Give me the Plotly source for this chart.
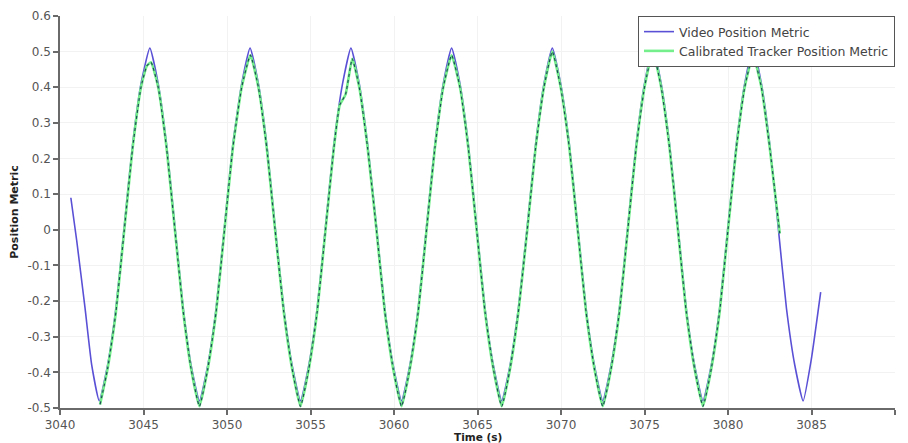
import plotly.graph_objects as go

# Video Position Metric
video_t = [3040.65, 3041.0, 3041.5, 3041.9, 3042.35, 3042.85, 3043.35, 3043.85, 3044.35, 3044.85,
           3045.38, 3045.88, 3046.38, 3046.88, 3047.38, 3047.85, 3048.35, 3048.85, 3049.35, 3049.85,
           3050.35, 3050.88, 3051.38, 3051.88, 3052.38, 3052.88, 3053.4, 3053.9, 3054.4, 3054.9,
           3055.4, 3055.9, 3056.4, 3056.92, 3057.42, 3057.92, 3058.42, 3058.95, 3059.45, 3059.95,
           3060.45, 3060.95, 3061.45, 3061.95, 3062.45, 3062.95, 3063.45, 3063.95, 3064.45, 3064.95,
           3065.45, 3065.95, 3066.45, 3066.95, 3067.45, 3067.98, 3068.48, 3068.98, 3069.48, 3069.98,
           3070.5, 3071.0, 3071.5, 3072.0, 3072.5, 3073.0, 3073.5, 3074.0, 3074.5, 3075.0,
           3075.5, 3076.0, 3076.5, 3077.0, 3077.5, 3078.0, 3078.5, 3079.0, 3079.5, 3080.0,
           3080.5, 3081.0, 3081.5, 3082.0, 3082.5, 3083.0, 3083.5, 3084.0, 3084.5, 3085.0,
           3085.55]
video_y = [0.09, -0.03, -0.22, -0.38, -0.48, -0.38, -0.22, 0.01, 0.24, 0.41,
           0.51, 0.41, 0.24, 0.01, -0.22, -0.38, -0.48, -0.38, -0.22, 0.01,
           0.24, 0.41, 0.51, 0.41, 0.24, 0.01, -0.22, -0.38, -0.48, -0.38,
           -0.22, 0.01, 0.24, 0.41, 0.51, 0.41, 0.24, 0.01, -0.22, -0.38,
           -0.48, -0.38, -0.22, 0.01, 0.24, 0.41, 0.51, 0.41, 0.24, 0.01,
           -0.22, -0.38, -0.48, -0.38, -0.22, 0.01, 0.24, 0.41, 0.51, 0.41,
           0.24, 0.01, -0.22, -0.38, -0.48, -0.38, -0.22, 0.01, 0.24, 0.41,
           0.51, 0.41, 0.24, 0.01, -0.22, -0.38, -0.48, -0.38, -0.22, 0.01,
           0.24, 0.41, 0.51, 0.41, 0.24, 0.01, -0.22, -0.38, -0.48, -0.36,
           -0.175]

# Calibrated Tracker Position Metric
tracker_t = [3042.4, 3042.85, 3043.35, 3043.85, 3044.35, 3044.85, 3045.2, 3045.45, 3045.88, 3046.38,
             3046.88, 3047.38, 3047.85, 3048.35, 3048.85, 3049.35, 3049.85, 3050.35, 3050.88, 3051.4,
             3051.88, 3052.38, 3052.88, 3053.4, 3053.9, 3054.4, 3054.9, 3055.4, 3055.9, 3056.4,
             3056.75, 3057.1, 3057.5, 3057.92, 3058.42, 3058.95, 3059.45, 3059.95, 3060.45, 3060.95,
             3061.45, 3061.95, 3062.45, 3062.95, 3063.45, 3063.95, 3064.45, 3064.95, 3065.45, 3065.95,
             3066.45, 3066.95, 3067.45, 3067.98, 3068.48, 3068.98, 3069.48, 3069.98, 3070.5, 3071.0,
             3071.5, 3072.0, 3072.5, 3073.0, 3073.5, 3074.0, 3074.5, 3075.0, 3075.5, 3076.0,
             3076.5, 3077.0, 3077.5, 3078.0, 3078.5, 3079.0, 3079.5, 3080.0, 3080.5, 3081.0,
             3081.5, 3082.0, 3082.5, 3083.1]
tracker_y = [-0.49, -0.39, -0.23, 0.0, 0.23, 0.40, 0.46, 0.47, 0.40, 0.23,
             0.0, -0.23, -0.39, -0.495, -0.39, -0.23, 0.0, 0.23, 0.40, 0.49,
             0.40, 0.23, 0.0, -0.23, -0.39, -0.495, -0.39, -0.23, 0.0, 0.23,
             0.35, 0.38, 0.48, 0.40, 0.23, 0.0, -0.23, -0.39, -0.495, -0.39,
             -0.23, 0.0, 0.23, 0.40, 0.49, 0.40, 0.23, 0.0, -0.23, -0.39,
             -0.495, -0.39, -0.23, 0.0, 0.23, 0.40, 0.50, 0.40, 0.23, 0.0,
             -0.23, -0.39, -0.495, -0.39, -0.23, 0.0, 0.23, 0.40, 0.50, 0.40,
             0.23, 0.0, -0.23, -0.39, -0.495, -0.39, -0.23, 0.0, 0.23, 0.40,
             0.49, 0.40, 0.23, -0.01]

x_ticks = [3040, 3045, 3050, 3055, 3060, 3065, 3070, 3075, 3080, 3085, 3090]
y_ticks = [-0.5, -0.4, -0.3, -0.2, -0.1, 0, 0.1, 0.2, 0.3, 0.4, 0.5, 0.6]
y_labels = ["-0.5", "-0.4", "-0.3", "-0.2", "-0.1", "0", "0.1", "0.2", "0.3", "0.4", "0.5", "0.6"]

font_family = "'DejaVu Sans', sans-serif"

fig = go.Figure()
fig.add_trace(go.Scatter(x=video_t, y=video_y, mode="lines", name="Video Position Metric",
                         line=dict(color="#5a50d6", width=1.6, shape="spline", smoothing=0.45)))
fig.add_trace(go.Scatter(x=tracker_t, y=tracker_y, mode="lines", name="Calibrated Tracker Position Metric",
                         line=dict(color="#74ef8c", width=2.6, shape="spline", smoothing=0.45)))
fig.add_trace(go.Scatter(x=tracker_t, y=tracker_y, mode="lines", showlegend=False, hoverinfo="skip",
                         line=dict(color="#1d4a55", width=1.2, dash="3px,3px", shape="spline", smoothing=0.45)))

axis_common = dict(showline=True, linecolor="#6a6a6a", linewidth=1.5, ticks="outside",
                   ticklen=5, tickcolor="#6a6a6a", tickwidth=1.5, automargin=False,
                   showgrid=True, gridcolor="#f2f2f2", zeroline=False,
                   tickfont=dict(family=font_family, size=12, color="#555555"))

fig.update_layout(
    width=900, height=435,
    margin=dict(l=52, r=13, t=8, b=35),
    paper_bgcolor="white", plot_bgcolor="white",
    showlegend=True,
    legend=dict(x=1, xanchor="right", y=1, yanchor="top",
                bordercolor="#555555", borderwidth=1, bgcolor="white",
                font=dict(family=font_family, size=12.5, color="#444444"),
                tracegroupgap=0, itemwidth=30),
    xaxis=dict(range=[3040, 3090], tickvals=x_ticks, **axis_common),
    yaxis=dict(range=[-0.5, 0.6], tickvals=y_ticks, ticktext=y_labels, **axis_common,
               title=dict(text="<b>Position Metric</b>",
                          font=dict(family=font_family, size=11, color="#222222"))),
    annotations=[dict(text="<b>Time (s)</b>", xref="paper", yref="paper", x=0.5, y=0,
                      xanchor="center", yanchor="top", yshift=-21, showarrow=False,
                      font=dict(family=font_family, size=10.5, color="#222222"))],
)

fig.write_html("out.html")
